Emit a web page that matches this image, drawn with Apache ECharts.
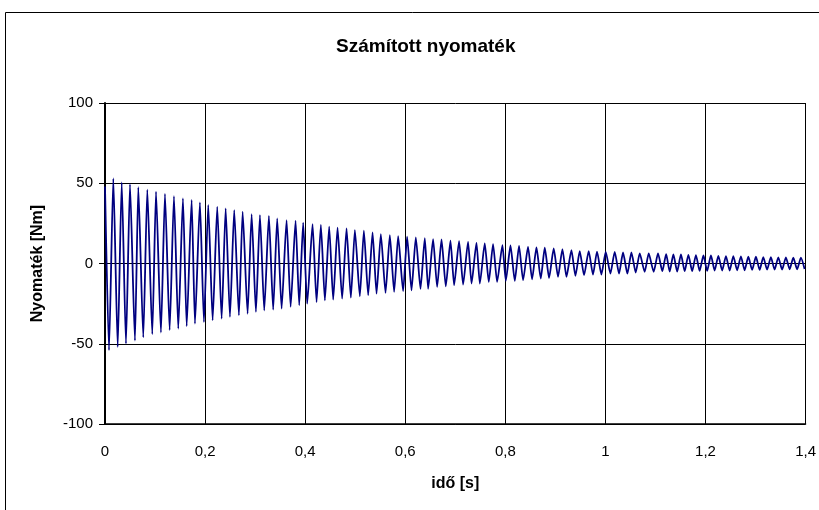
<!DOCTYPE html>
<html>
<head>
<meta charset="utf-8">
<script src="https://cdn.jsdelivr.net/npm/echarts@6/dist/echarts.min.js"></script>
<style>
  html, body { margin: 0; padding: 0; background: #fff; }
  #chart { width: 819px; height: 510px; }
</style>
</head>
<body>
<div id="chart"></div>
<script>
// idő [s] - times of the turning points
const timeS = [
  0, 0.0080, 0.0166, 0.0254, 0.0334, 0.0419, 0.0499, 0.0599,
  0.0665, 0.0765, 0.0845, 0.0945, 0.1019, 0.1118, 0.1198, 0.1292,
  0.1378, 0.1464, 0.1558, 0.1632, 0.1732, 0.1797, 0.1897, 0.1977,
  0.2063, 0.2151, 0.2243, 0.2331, 0.2411, 0.2497, 0.2582, 0.2676,
  0.2750, 0.2850, 0.2930, 0.3016, 0.3096, 0.3182, 0.3275, 0.3361,
  0.3441, 0.3529, 0.3629, 0.3709, 0.3809, 0.3881, 0.3960, 0.4040,
  0.4148, 0.4228, 0.4314, 0.4394, 0.4480, 0.4560, 0.4647, 0.4739,
  0.4827, 0.4913, 0.4993, 0.5093, 0.5173, 0.5259, 0.5347, 0.5426,
  0.5512, 0.5606, 0.5692, 0.5778, 0.5858, 0.5958, 0.6037, 0.6125,
  0.6211, 0.6305, 0.6391, 0.6457, 0.6557, 0.6637, 0.6725, 0.6810,
  0.6904, 0.6976, 0.7076, 0.7156, 0.7256, 0.7324, 0.7424, 0.7490,
  0.7589, 0.7669, 0.7755, 0.7835, 0.7943, 0.8009, 0.8103, 0.8189,
  0.8274, 0.8354, 0.8454, 0.8534, 0.8622, 0.8708, 0.8788, 0.8874,
  0.8967, 0.9053, 0.9141, 0.9221, 0.9321, 0.9401, 0.9487, 0.9573,
  0.9666, 0.9752, 0.9832, 0.9920, 1.0006, 1.0100, 1.0186, 1.0272,
  1.0352, 1.0439, 1.0519, 1.0605, 1.0685, 1.0785, 1.0865, 1.0965,
  1.1051, 1.1138, 1.1214, 1.1284, 1.1358, 1.1434, 1.1510, 1.1584,
  1.1658, 1.1734, 1.1809, 1.1883, 1.1959, 1.2033, 1.2109, 1.2183,
  1.2257, 1.2333, 1.2409, 1.2483, 1.2556, 1.2632, 1.2708, 1.2782,
  1.2856, 1.2932, 1.3008, 1.3082, 1.3155, 1.3231, 1.3307, 1.3381,
  1.3455, 1.3531, 1.3607, 1.3681, 1.3755, 1.3831, 1.3907, 1.3980
];

// Nyomaték [Nm] at those points
const torqueNm = [
  48, -54, 53, -52, 50.6, -50, 49.4, -48,
  47.5, -46, 46, -44, 44.7, -43, 43.3, -41.5,
  42, -40.6, 40.6, -39, 39.6, -37.5, 38, -36.5,
  36.5, -35.4, 35.4, -34.4, 34.4, -33.3, 33.3, -32.3,
  32.3, -31.3, 30.8, -30.2, 30.2, -29.2, 29.6, -28.8,
  28.1, -28.1, 27, -27, 26.7, -26, 25.4, -25,
  24.5, -24, 24, -23, 23, -22.5, 22.3, -21.9,
  21.9, -21.3, 20.8, -20.4, 20.4, -19.8, 19.4, -18.8,
  18.3, -18.3, 17.7, -17.7, 17, -17.2, 16.7, -16.7,
  16.3, -15.8, 15.8, -15.8, 15.2, -14.6, 15, -14.2,
  14.2, -13.5, 13.9, -13.1, 13.5, -12.5, 12.9, -12.5,
  12.5, -11.5, 12.1, -11.5, 11.5, -10.8, 11.2, -10.8,
  11, -10.4, 10.4, -9.8, 10, -9.4, 9.8, -9,
  9.4, -8.3, 9, -8.3, 8.3, -7.7, 7.7, -7.3,
  7.7, -6.9, 7.4, -6.9, 7.3, -6.3, 7.3, -6.3,
  6.9, -6.3, 6.9, -5.6, 6.3, -5.2, 6.3, -5.2,
  6.3, -4.8, 5.8, -5, 5.6, -5, 5.6, -4.8,
  5.4, -4.8, 5.2, -4.6, 5, -4.6, 5, -4.4,
  4.8, -4.4, 4.6, -4.4, 4.6, -4.2, 4.4, -4.2,
  4.2, -4, 4.2, -4, 4, -3.8, 4, -3.8,
  3.8, -3.8, 3.8, -3.6, 3.6, -3.6, 3.6, -3.4
];

const xTicks = ['0', '0,2', '0,4', '0,6', '0,8', '1', '1,2', '1,4'];
const yTicks = [-100, -50, 0, 50, 100];

const seriesData = timeS.map((t, i) => [t, torqueNm[i]]);

const myChart = echarts.init(document.getElementById('chart'));
const FONT = '"Liberation Sans", Arial, sans-serif';

myChart.setOption({
  animation: false,
  backgroundColor: '#fff',
  title: {
    text: 'Számított nyomaték',
    left: 331,
    top: 32,
    textStyle: { fontFamily: FONT, fontSize: 19, fontWeight: 'bold', color: '#000' }
  },
  graphic: [{
    // outer chart frame (cut off on the right and bottom)
    type: 'rect',
    shape: { x: 5.5, y: 12.5, width: 840, height: 520 },
    style: { fill: 'none', stroke: '#000', lineWidth: 1 },
    silent: true
  }],
  grid: { left: 105, right: 13, top: 103, bottom: 86, containLabel: false },
  xAxis: {
    type: 'value',
    min: 0,
    max: 1.4,
    interval: 0.2,
    name: 'idő [s]',
    nameLocation: 'middle',
    nameGap: 52,
    nameTextStyle: { fontFamily: FONT, fontSize: 16, fontWeight: 'bold', color: '#000' },
    axisLine: { show: true, onZero: false, lineStyle: { color: '#000', width: 1.5 } },
    axisTick: { show: false },
    axisLabel: {
      fontFamily: FONT, fontSize: 15, color: '#000', margin: 20,
      formatter: v => xTicks[Math.round(v / 0.2)]
    },
    splitLine: { show: true, lineStyle: { color: '#000', width: 1 } }
  },
  yAxis: {
    type: 'value',
    min: yTicks[0],
    max: yTicks[yTicks.length - 1],
    interval: 50,
    name: 'Nyomaték [Nm]',
    nameLocation: 'middle',
    nameGap: 59,
    nameTextStyle: { fontFamily: FONT, fontSize: 16, fontWeight: 'bold', color: '#000' },
    axisLine: { show: true, onZero: false, lineStyle: { color: '#000', width: 2 } },
    axisTick: { show: true, inside: false, length: 6, lineStyle: { color: '#000', width: 1 } },
    axisLabel: { fontFamily: FONT, fontSize: 15, color: '#000', margin: 12 },
    splitLine: { show: true, lineStyle: { color: '#000', width: 1 } }
  },
  series: [{
    name: 'Nyomaték',
    type: 'line',
    data: seriesData,
    showSymbol: false,
    symbol: 'none',
    smooth: 0.2,
    smoothMonotone: 'x',
    lineStyle: { color: '#000080', width: 1.8 },
    z: 3
  }]
});
</script>
</body>
</html>
